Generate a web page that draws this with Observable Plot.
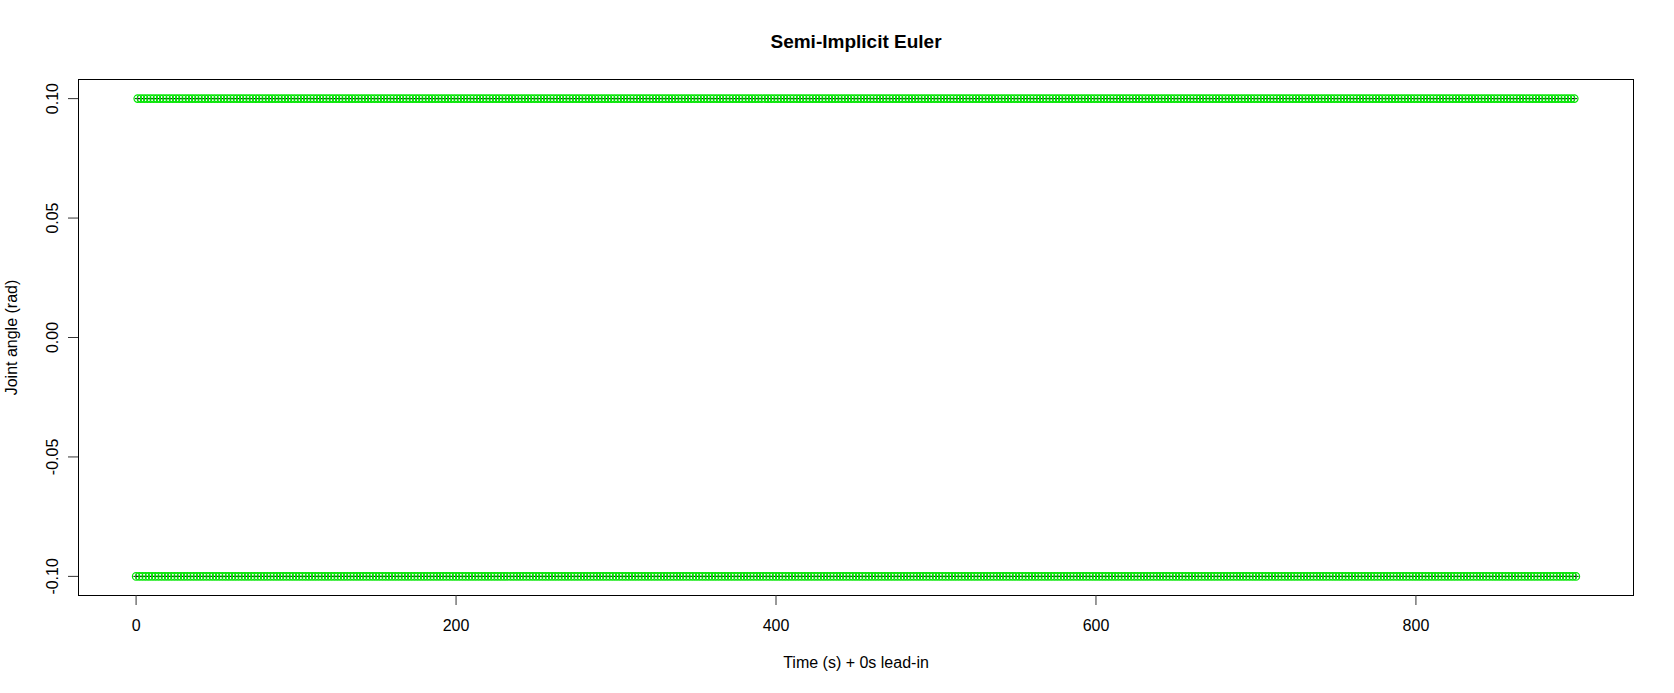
<!DOCTYPE html>
<html>
<head>
<meta charset="utf-8">
<script src="https://cdn.jsdelivr.net/npm/d3@7"></script>
<script src="https://cdn.jsdelivr.net/npm/@observablehq/plot@0.6"></script>
<style>
  html, body { margin: 0; padding: 0; background: #fff; }
  #chart svg { display: block; }
</style>
</head>
<body>
<div id="chart"></div>
<script>
// Data: the joint angle switches between two levels
// at every 1 s sample, from t = 0 s to t = 900 s (bang-bang response).
const timeStart = 0;
const timeEnd = 900;
const timeStep = 1;
const angleLevels = [-0.1, 0.1]; // value at even sample, value at odd sample

const xTicks = [0, 200, 400, 600, 800];
const yTicks = [-0.10, -0.05, 0.00, 0.05, 0.10];

const titleText = "Semi-Implicit Euler";
const xLabel = "Time (s) + 0s lead-in";
const yLabel = "Joint angle (rad)";

const samples = [];
for (let i = 0, t = timeStart; t <= timeEnd; i++, t += timeStep) {
  samples.push({ time: t, angle: angleLevels[i % angleLevels.length] });
}

const font = "'Liberation Sans', Arial, Helvetica, sans-serif";

const chart = Plot.plot({
  width: 1674,
  height: 693,
  marginLeft: 78,
  marginRight: 41,
  marginTop: 79,
  marginBottom: 98,
  style: { fontFamily: font, fontSize: "16px", color: "black", background: "white" },
  x: { domain: [-36, 936] },
  y: { domain: [-0.108, 0.108] },
  marks: [
    Plot.frame({ stroke: "black", strokeWidth: 1 }),
    Plot.axisX(xTicks, { tickSize: 10, tickFormat: () => "", label: null, stroke: "#333" }),
    Plot.axisY(yTicks, { tickSize: 10, tickFormat: () => "", label: null, stroke: "#333" }),
    Plot.text(xTicks, {
      x: d => d, frameAnchor: "bottom", lineAnchor: "bottom", dy: 35,
      text: d => String(d), fontSize: 16, fill: "black"
    }),
    Plot.text(yTicks, {
      y: d => d, frameAnchor: "left", lineAnchor: "bottom", textAnchor: "middle",
      rotate: -90, dx: -21, text: d => d.toFixed(2), fontSize: 16, fill: "black"
    }),
    Plot.dot(samples, { x: "time", y: "angle", symbol: "plus", r: 1.9, stroke: "#111", strokeWidth: 1 }),
    Plot.dot(samples, { x: "time", y: "angle", r: 3.7, stroke: "#00e600", strokeWidth: 1.2, fill: "none" }),
    Plot.text([titleText], {
      frameAnchor: "top", lineAnchor: "bottom", dy: -32,
      text: d => d, fontSize: 19, fontWeight: "bold", fill: "black"
    }),
    Plot.text([xLabel], {
      frameAnchor: "bottom", lineAnchor: "bottom", dy: 72,
      text: d => d, fontSize: 16, fill: "black"
    }),
    Plot.text([yLabel], {
      frameAnchor: "left", lineAnchor: "bottom", textAnchor: "middle",
      rotate: -90, dx: -62, text: d => d, fontSize: 16, fill: "black"
    })
  ]
});

document.getElementById("chart").appendChild(chart);
</script>
</body>
</html>
